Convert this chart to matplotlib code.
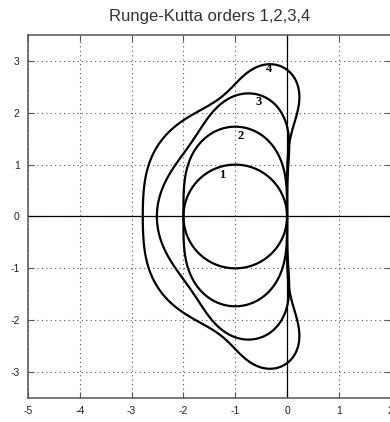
"""Stability regions of explicit Runge-Kutta methods, orders 1-4."""

import matplotlib

matplotlib.use("Agg")
import matplotlib.pyplot as plt
import numpy as np

# Taylor coefficients of the amplification polynomial R(z) = sum c_k z^k
ORDERS = [1, 2, 3, 4]
TAYLOR_COEFFS = [1.0, 1.0, 1 / 2, 1 / 6, 1 / 24]

# curve labels and their positions (x, y)
LABELS = ["1", "2", "3", "4"]
LABEL_X = [-1.25, -0.9, -0.55, -0.35]
LABEL_Y = [0.8, 1.55, 2.2, 2.85]

X_TICKS = [-5, -4, -3, -2, -1, 0, 1, 2]
Y_TICKS = [-3, -2, -1, 0, 1, 2, 3]

plt.rcParams["font.family"] = ["Liberation Sans", "DejaVu Sans"]
plt.rcParams["axes.unicode_minus"] = False

fig = plt.figure(figsize=(3.9, 4.22), dpi=100)
ax = fig.add_axes([0.0718, 0.057, 0.93, 0.86])

xs = np.linspace(-3.2, 0.6, 1500)
ys = np.linspace(-3.3, 3.3, 2200)
X, Y = np.meshgrid(xs, ys)
Z = X + 1j * Y

for order in ORDERS:
    R = np.zeros_like(Z)
    for k in range(order + 1):
        R = R + TAYLOR_COEFFS[k] * Z**k
    ax.contour(X, Y, np.abs(R), levels=[1.0], colors="k", linewidths=1.6)

for lab, lx, ly in zip(LABELS, LABEL_X, LABEL_Y):
    ax.text(lx, ly, lab, family="Liberation Serif", weight="bold", fontsize=9,
            ha="center", va="center")

ax.axhline(0, color="k", lw=0.9)
ax.axvline(0, color="k", lw=0.9)

ax.set_xlim(-5, 2)
ax.set_ylim(-3.5, 3.5)
ax.set_xticks(X_TICKS)
ax.set_yticks(Y_TICKS)
ax.grid(True, linestyle=(0, (1, 3)), color="#555555", linewidth=0.8)
ax.tick_params(direction="in", length=4, labelsize=7.5, top=True, right=True,
               pad=6, color="#555555", labelcolor="#222222")
for s in ax.spines.values():
    s.set_linewidth(1.1)
    s.set_color("#555555")

ax.set_title("Runge-Kutta orders 1,2,3,4", fontsize=12, pad=10, color="#333333")

fig.savefig("out.png", dpi=100)
